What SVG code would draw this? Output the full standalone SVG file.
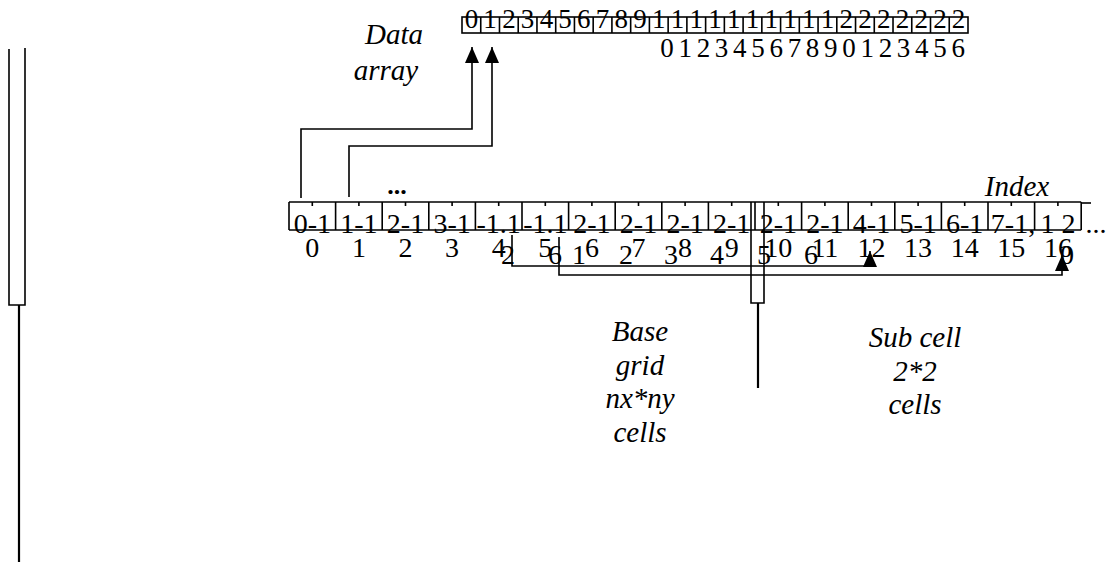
<svg xmlns="http://www.w3.org/2000/svg" width="1108" height="562" viewBox="0 0 1108 562">
<style>
.ln{fill:none;stroke:#000;stroke-width:1.6}
.thk{fill:none;stroke:#000;stroke-width:2.2}
.d{font-family:"Liberation Serif",serif;font-size:28px;fill:#000;text-anchor:middle}
.ds{font-family:"Liberation Serif",serif;font-size:27px;fill:#000;text-anchor:middle}
.lb{font-family:"Liberation Serif",serif;font-size:29px;font-style:italic;fill:#000;text-anchor:middle}
</style>
<defs>
<marker id="ah" markerUnits="userSpaceOnUse" markerWidth="16" markerHeight="14" refX="16" refY="7" orient="auto">
<path d="M0,0 L16,7 L0,14 z" fill="#000"/>
</marker>
</defs>
<rect width="1108" height="562" fill="#fff"/>

<g id="left-bracket">
<path class="ln" d="M9,49 V305 H25 V48"/>
<path class="thk" d="M19,305 V562"/>
</g>

<g id="data-array">
<rect class="ln" x="462" y="17" width="506" height="16"/>
<path class="ln" d="M480.74,17V33M499.48,17V33M518.22,17V33M536.96,17V33M555.7,17V33M574.44,17V33M593.18,17V33M611.92,17V33M630.66,17V33M649.4,17V33M668.14,17V33M686.88,17V33M705.62,17V33M724.36,17V33M743.1,17V33M761.84,17V33M780.58,17V33M799.32,17V33M818.06,17V33M836.8,17V33M855.54,17V33M874.28,17V33M893.02,17V33M911.76,17V33M930.5,17V33M949.24,17V33"/>
<text class="ds" y="27.5"><tspan x="471.4">0</tspan><tspan x="490.1">1</tspan><tspan x="508.9">2</tspan><tspan x="527.6">3</tspan><tspan x="546.4">4</tspan><tspan x="565.1">5</tspan><tspan x="583.8">6</tspan><tspan x="602.6">7</tspan><tspan x="621.3">8</tspan><tspan x="640.1">9</tspan><tspan x="658.8">1</tspan><tspan x="677.5">1</tspan><tspan x="696.3">1</tspan><tspan x="715">1</tspan><tspan x="733.8">1</tspan><tspan x="752.5">1</tspan><tspan x="771.2">1</tspan><tspan x="790">1</tspan><tspan x="808.7">1</tspan><tspan x="827.5">1</tspan><tspan x="846.2">2</tspan><tspan x="864.9">2</tspan><tspan x="883.7">2</tspan><tspan x="902.4">2</tspan><tspan x="921.2">2</tspan><tspan x="939.9">2</tspan><tspan x="958.6">2</tspan></text>
<text class="ds" y="56.5"><tspan x="667">0</tspan><tspan x="685.2">1</tspan><tspan x="703.4">2</tspan><tspan x="721.6">3</tspan><tspan x="739.8">4</tspan><tspan x="758">5</tspan><tspan x="776.2">6</tspan><tspan x="794.4">7</tspan><tspan x="812.6">8</tspan><tspan x="830.8">9</tspan><tspan x="849">0</tspan><tspan x="867.2">1</tspan><tspan x="885.4">2</tspan><tspan x="903.6">3</tspan><tspan x="921.8">4</tspan><tspan x="940">5</tspan><tspan x="958.2">6</tspan></text>
</g>

<g id="label-data-array">
<text class="lb" x="394" y="44">Data</text>
<text class="lb" x="386" y="80">array</text>
</g>

<g id="index-row">
<path class="ln" d="M289,202 H1081.2 M289,230 H1081.2"/>
<path class="ln" d="M289,202V230M335.6,202V230M382.2,202V230M428.8,202V230M475.4,202V230M522,202V230M568.6,202V230M615.2,202V230M661.8,202V230M708.4,202V230M755,202V230M801.6,202V230M848.2,202V230M894.8,202V230M941.4,202V230M988,202V230M1034.6,202V230M1081.2,202V230"/>
<path class="ln" d="M1081.2,203 H1091"/>
<path class="ln" d="M312.3,202V206M358.9,202V206M405.5,202V206M452.1,202V206M498.7,202V206M545.3,202V206M591.9,202V206M638.5,202V206M685.1,202V206M731.7,202V206M778.3,202V206M824.9,202V206M871.5,202V206M918.1,202V206M964.7,202V206M1011.3,202V206M1057.9,202V206"/>
<text class="d" y="233"><tspan x="312.3">0-1</tspan><tspan x="358.9">1-1</tspan><tspan x="405.5">2-1</tspan><tspan x="452.1">3-1</tspan><tspan x="498.7">-1.1</tspan><tspan x="545.3">-1.1</tspan><tspan x="591.9">2-1</tspan><tspan x="638.5">2-1</tspan><tspan x="685.1">2-1</tspan><tspan x="731.7">2-1</tspan><tspan x="778.3">2-1</tspan><tspan x="824.9">2-1</tspan><tspan x="871.5">4-1</tspan><tspan x="918.1">5-1</tspan><tspan x="964.7">6-1</tspan><tspan x="1013">7-1,</tspan><tspan x="1058">1 2</tspan></text>
<text class="d" x="1096" y="233">...</text>
<text class="d" y="257"><tspan x="312.3">0</tspan><tspan x="358.9">1</tspan><tspan x="405.5">2</tspan><tspan x="452.1">3</tspan><tspan x="498.7">4</tspan><tspan x="545.3">5</tspan><tspan x="591.9">6</tspan><tspan x="638.5">7</tspan><tspan x="685.1">8</tspan><tspan x="731.7">9</tspan><tspan x="778.3">10</tspan><tspan x="824.9">11</tspan><tspan x="871.5">12</tspan><tspan x="918.1">13</tspan><tspan x="964.7">14</tspan><tspan x="1011.3">15</tspan><tspan x="1057.9">16</tspan></text>
<text class="d" y="264"><tspan x="508">2</tspan><tspan x="555">6</tspan><tspan x="579">1</tspan><tspan x="626">2</tspan><tspan x="671">3</tspan><tspan x="717">4</tspan><tspan x="764">5</tspan><tspan x="811">6</tspan><tspan x="1067">0</tspan></text>
<text x="397" y="194" style="font-family:'Liberation Serif',serif;font-size:26px;font-weight:bold;text-anchor:middle">...</text>
</g>

<g id="label-index">
<text class="lb" x="1017" y="196">Index</text>
</g>

<g id="middle-bracket">
<path class="ln" d="M751,202 V303 H764 V202"/>
<path class="thk" d="M758,303 V388"/>
</g>

<g id="label-base-grid">
<text class="lb" x="640" y="341">Base</text>
<text class="lb" x="640" y="375">grid</text>
<text class="lb" x="640" y="408">nx*ny</text>
<text class="lb" x="640" y="442">cells</text>
</g>

<g id="label-sub-cell">
<text class="lb" x="915" y="347">Sub cell</text>
<text class="lb" x="915" y="381">2*2</text>
<text class="lb" x="915" y="414">cells</text>
</g>

<g id="connectors">
<path class="ln" d="M301,198 V129 H472 V47" marker-end="url(#ah)"/>
<path class="ln" d="M349,197 V146 H492 V47" marker-end="url(#ah)"/>
<path class="ln" d="M512,235 V266 H870 V251" marker-end="url(#ah)"/>
<path class="ln" d="M559,237 V275 H1062 V255" marker-end="url(#ah)"/>
</g>
</svg>
